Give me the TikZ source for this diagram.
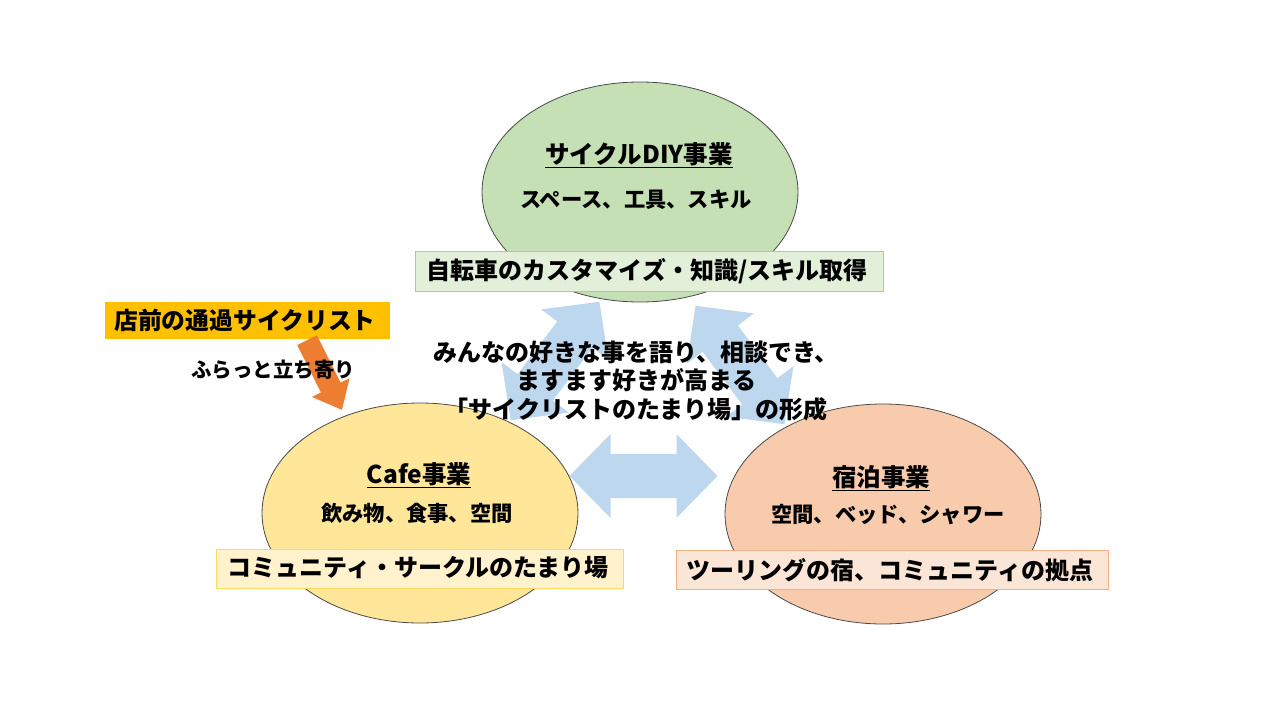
\documentclass[tikz,border=0pt]{standalone}
\usepackage{fontspec}
\setmainfont{Noto Sans CJK JP}
\usetikzlibrary{shapes.geometric}
\definecolor{gEll}{HTML}{C5E0B4}
\definecolor{gRect}{HTML}{E2F0D9}
\definecolor{gLine}{HTML}{A9D18E}
\definecolor{yEll}{HTML}{FFE699}
\definecolor{yRect}{HTML}{FFF2CC}
\definecolor{yLine}{HTML}{FFD966}
\definecolor{oEll}{HTML}{F8CBAD}
\definecolor{oRect}{HTML}{FBE5D6}
\definecolor{oLine}{HTML}{F4B183}
\definecolor{blueArr}{HTML}{BDD7EE}
\definecolor{goldBox}{HTML}{FFC000}
\definecolor{orangeArr}{HTML}{ED7D31}
\definecolor{ellLine}{HTML}{4A4A4A}
\tikzset{
  bizell/.style={ellipse, draw=ellLine, line width=0.8pt, minimum width=316pt, minimum height=220pt, inner sep=0pt},
  bizrect/.style={rectangle, line width=0.8pt, inner sep=0pt},
  ttl/.style={font=\fontsize{24.5}{28}\selectfont\bfseries, inner sep=0pt},
  sub/.style={font=\fontsize{21.3}{26}\selectfont\bfseries, inner sep=0pt},
  rtxt/.style={font=\fontsize{24}{28}\selectfont\bfseries, inner sep=0pt},
  dblarrowpic/.pic={
    \fill[blueArr] (-74,0) -- (-33,42) -- (-33,22) -- (33,22) -- (33,42) -- (74,0)
      -- (33,-42) -- (33,-22) -- (-33,-22) -- (-33,-42) -- cycle;
  },
  sglarrowpic/.pic={
    \fill[orangeArr] (-39,11) -- (14,11) -- (14,21) -- (39,0) -- (14,-21) -- (14,-11)
      -- (-39,-11) -- cycle;
  },
}
\begin{document}
\begin{tikzpicture}[x=1pt,y=-1pt]
\useasboundingbox (0,0) rectangle (1280,720);
\fill[white] (0,0) rectangle (1280,720);
% blue arrows
\pic at (643.5,476) {dblarrowpic};
\pic[rotate=53.13] at (555,361) {dblarrowpic};
\pic[rotate=-53.13] at (740,365) {dblarrowpic};
% ellipses
\node[bizell, fill=gEll] (diy) at (640,192) {};
\node[bizell, fill=yEll] (cafe) at (420,513) {};
\node[bizell, fill=oEll] (stay) at (883,514) {};
% rectangles
\node[bizrect, fill=gRect, draw=gLine, minimum width=468pt, minimum height=40pt] (diyR) at (649,271) {};
\node[bizrect, fill=yRect, draw=yLine, minimum width=407pt, minimum height=39pt] (cafeR) at (419.5,568.5) {};
\node[bizrect, fill=oRect, draw=oLine, minimum width=432pt, minimum height=39pt] (stayR) at (892,569.5) {};
% texts in ellipses
\node[ttl] (diyT) at (639,155) {\underline{サイクルDIY事業}};
\node[sub] (diyS) at (636,200) {スペース、工具、スキル};
\node[rtxt] (diyRT) at (647,271) {自転車のカスタマイズ・知識/スキル取得};
\node[ttl] (cafeT) at (419,475) {\underline{Cafe事業}};
\node[sub] (cafeS) at (417,513) {飲み物、食事、空間};
\node[rtxt] (cafeRT) at (418,568) {コミュニティ・サークルのたまり場};
\node[ttl] (stayT) at (881,478) {\underline{宿泊事業}};
\node[sub] (stayS) at (888,515) {空間、ベッド、シャワー};
\node[rtxt] (stayRT) at (890,570) {ツーリングの宿、コミュニティの拠点};
% passing cyclists
\node[rectangle, fill=goldBox, minimum width=285pt, minimum height=37pt, inner sep=0pt] (pass) at (247.5,320.5) {};
\node[font=\fontsize{23.8}{28}\selectfont\bfseries, inner sep=0pt] (passT) at (245,320) {店前の通過サイクリスト};
\pic[rotate=-63.4] at (324.5,375) {sglarrowpic};
\node[font=\fontsize{20.5}{24}\selectfont\bfseries, inner sep=0pt] (drop) at (273,370) {ふらっと立ち寄り};
% centre text
\node[font=\fontsize{24}{28.5}\selectfont\bfseries, align=center, inner sep=0pt] (centre) at (636,381) {みんなの好きな事を語り、相談でき、\\ますます好きが高まる\\「サイクリストのたまり場」の形成};
\end{tikzpicture}
\end{document}
